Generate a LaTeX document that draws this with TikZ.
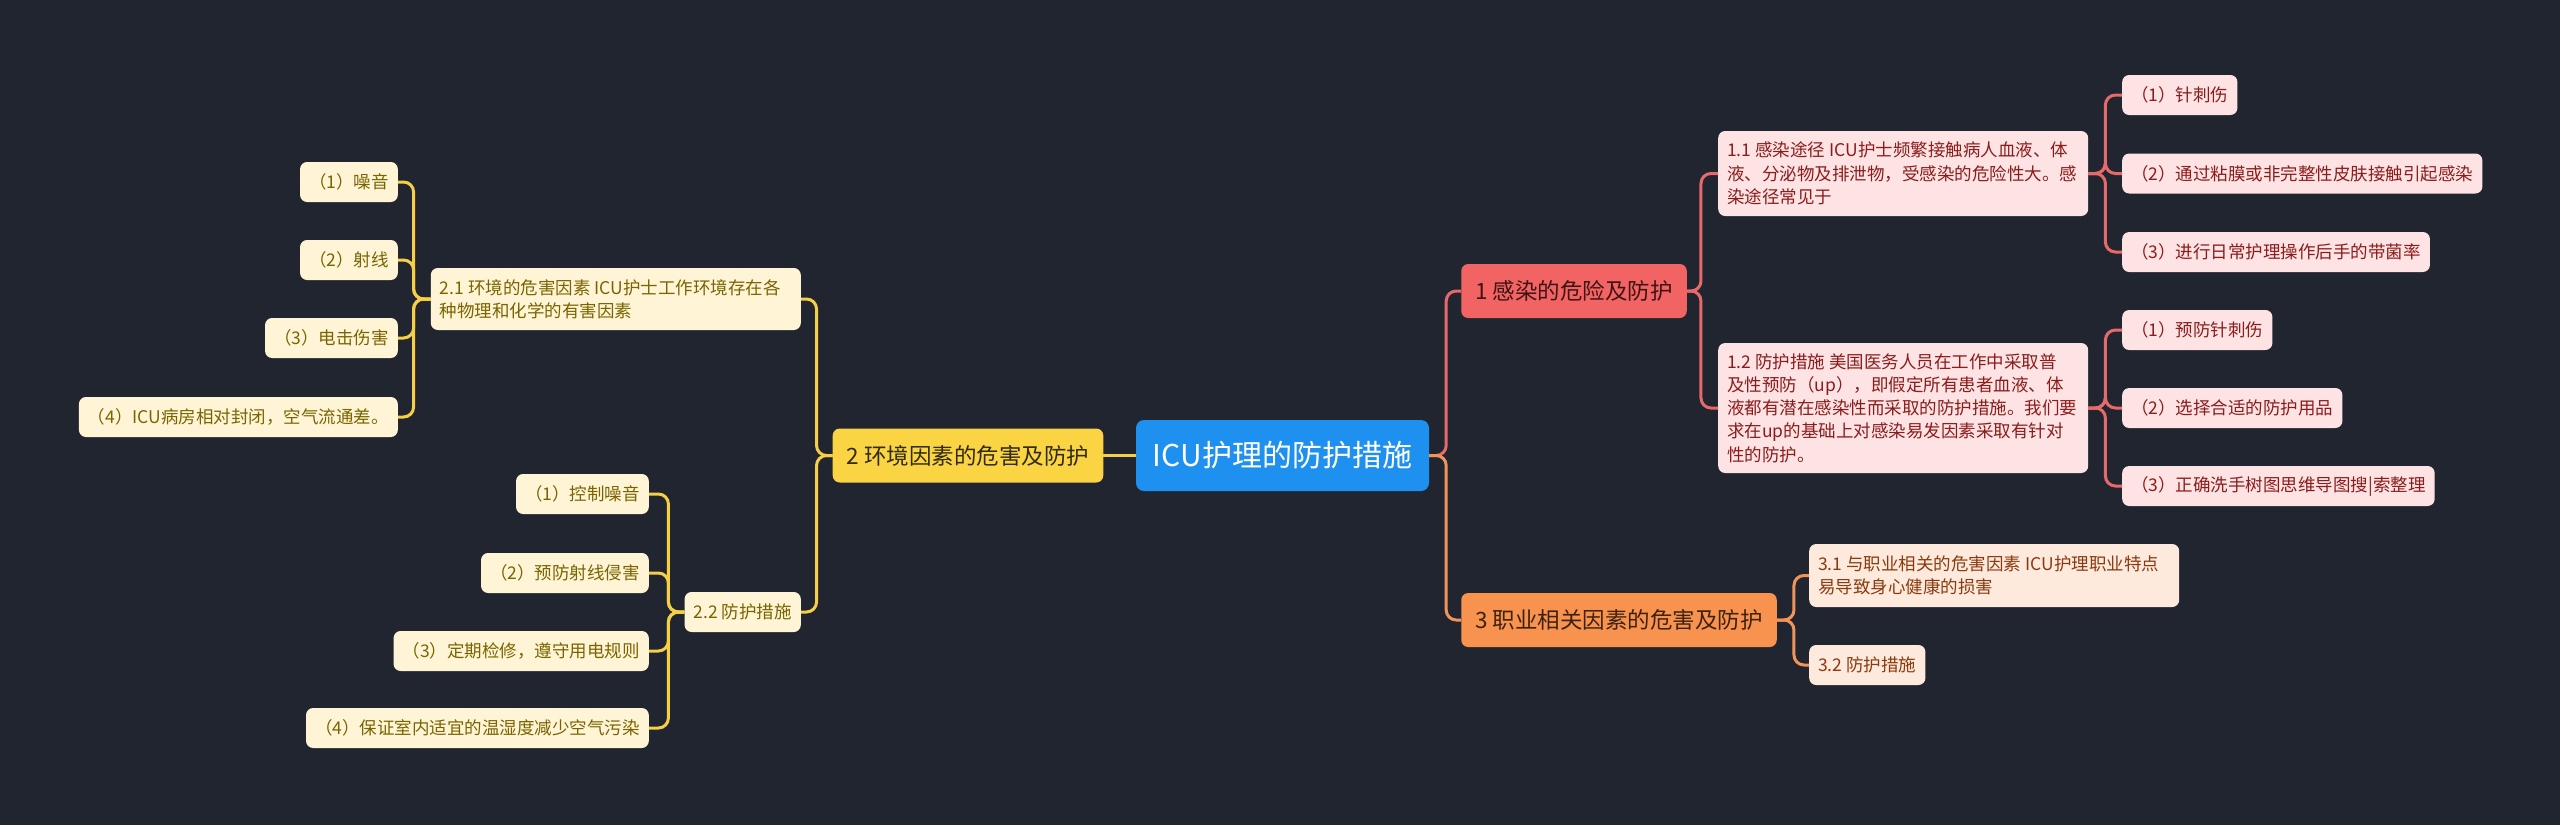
\documentclass[tikz,border=0pt]{standalone}
\usepackage{fontspec}
\setmainfont{Noto Sans CJK SC}
\usetikzlibrary{calc}
\definecolor{bg}{HTML}{212530}
\definecolor{rootc}{HTML}{1E90F0}
\definecolor{redf}{HTML}{F26363}
\definecolor{redl}{HTML}{E66A6A}
\definecolor{redt}{HTML}{3E1414}
\definecolor{pinkf}{HTML}{FDE3E3}
\definecolor{pinkt}{HTML}{8C1C1C}
\definecolor{orf}{HTML}{F8924F}
\definecolor{orl}{HTML}{F2945A}
\definecolor{ort}{HTML}{3E2210}
\definecolor{peachf}{HTML}{FDEADC}
\definecolor{peacht}{HTML}{8A3A0F}
\definecolor{yef}{HTML}{FAD443}
\definecolor{yel}{HTML}{F5CF45}
\definecolor{yet}{HTML}{2F2A10}
\definecolor{creamf}{HTML}{FFF5D6}
\definecolor{creamt}{HTML}{7A6400}
\tikzset{
  base/.style={rounded corners=7pt, inner xsep=9pt, inner ysep=0pt, align=left},
  rootbox/.style={base, fill=rootc, text=white, rounded corners=8pt, minimum width=293pt, minimum height=71pt, align=center, font=\fontsize{30pt}{36pt}\selectfont},
  brbox/.style={base, minimum height=54pt, align=center, font=\fontsize{22.5pt}{27pt}\selectfont, inner xsep=14pt},
  br1/.style={brbox, fill=redf, text=redt},
  br2/.style={brbox, fill=yef, text=yet},
  br3/.style={brbox, fill=orf, text=ort},
  leaf/.style={base, minimum height=40pt, font=\fontsize{17.5pt}{23.3pt}\selectfont},
  lpink/.style={leaf, fill=pinkf, text=pinkt},
  lpeach/.style={leaf, fill=peachf, text=peacht},
  lcream/.style={leaf, fill=creamf, text=creamt, align=right},
  wide/.style={text width=352pt, align=flush left},
  conn/.style={line width=3pt, rounded corners=10pt},
  c1/.style={conn, draw=redl},
  c2/.style={conn, draw=yel},
  c3/.style={conn, draw=orl},
}
\begin{document}
\begin{tikzpicture}[x=1pt,y=-1pt]
\fill[bg] (0,0) rectangle (2560,825);
\useasboundingbox (0,0) rectangle (2560,825);

% nodes
\node[rootbox] (root) at (1282.5,455.5) {ICU护理的防护措施};
\node[br1] (b1) at (1574,291) {1 感染的危险及防护};
\node[br3] (b3) at (1619,620) {3 职业相关因素的危害及防护};
\node[br2] (b2) at (968,455.5) {2 环境因素的危害及防护};

\node[lpink, wide, anchor=west, minimum height=85pt] (n11) at (1718,173.5) {1.1 感染途径 ICU护士频繁接触病人血液、体\\液、分泌物及排泄物，受感染的危险性大。感\\染途径常见于};
\node[lpink, wide, anchor=west, minimum height=130pt] (n12) at (1718,408) {1.2 防护措施 美国医务人员在工作中采取普\\及性预防（up），即假定所有患者血液、体\\液都有潜在感染性而采取的防护措施。我们要\\求在up的基础上对感染易发因素采取有针对\\性的防护。};

\node[lpink, anchor=west] (l111) at (2122,95) {（1）针刺伤};
\node[lpink, anchor=west] (l112) at (2122,173.5) {（2）通过粘膜或非完整性皮肤接触引起感染};
\node[lpink, anchor=west] (l113) at (2122,252) {（3）进行日常护理操作后手的带菌率};

\node[lpink, anchor=west] (l121) at (2122,330) {（1）预防针刺伤};
\node[lpink, anchor=west] (l122) at (2122,408) {（2）选择合适的防护用品};
\node[lpink, anchor=west] (l123) at (2122,486) {（3）正确洗手树图思维导图搜|索整理};

\node[lpeach, wide, anchor=west, minimum height=63pt] (n31) at (1809,575.5) {3.1 与职业相关的危害因素 ICU护理职业特点\\易导致身心健康的损害};
\node[lpeach, anchor=west] (n32) at (1809,665) {3.2 防护措施};

\node[lcream, wide, anchor=east, minimum height=62pt] (n21) at (801,299) {2.1 环境的危害因素 ICU护士工作环境存在各\\种物理和化学的有害因素};
\node[lcream, anchor=east] (n22) at (801,612) {2.2 防护措施};

\node[lcream, anchor=east] (l211) at (398,182) {（1）噪音};
\node[lcream, anchor=east] (l212) at (398,260) {（2）射线};
\node[lcream, anchor=east] (l213) at (398,338) {（3）电击伤害};
\node[lcream, anchor=east] (l214) at (398,417) {（4）ICU病房相对封闭，空气流通差。};

\node[lcream, anchor=east] (l221) at (649,494) {（1）控制噪音};
\node[lcream, anchor=east] (l222) at (649,573) {（2）预防射线侵害};
\node[lcream, anchor=east] (l223) at (649,651) {（3）定期检修，遵守用电规则};
\node[lcream, anchor=east] (l224) at (649,728) {（4）保证室内适宜的温湿度减少空气污染};

% connectors
\draw[c2] (root.west) -- (b2.east);
\draw[c1] (root.east) -- ($(root.east)+(17,0)$) |- (b1.west);
\draw[c3] (root.east) -- ($(root.east)+(17,0)$) |- (b3.west);

\foreach \t in {n11,n12}{
  \draw[c1] (b1.east) -- ($(b1.east)+(14,0)$) |- (\t.west);
}
\foreach \t in {l111,l112,l113}{
  \draw[c1] (n11.east) -- ($(n11.east)+(17,0)$) |- (\t.west);
}
\foreach \t in {l121,l122,l123}{
  \draw[c1] (n12.east) -- ($(n12.east)+(17,0)$) |- (\t.west);
}
\foreach \t in {n31,n32}{
  \draw[c3] (b3.east) -- ($(b3.east)+(17,0)$) |- (\t.west);
}
\foreach \t in {n21,n22}{
  \draw[c2] (b2.west) -- ($(b2.west)+(-16,0)$) |- (\t.east);
}
\foreach \t in {l211,l212,l213,l214}{
  \draw[c2] (n21.west) -- ($(n21.west)+(-17,0)$) |- (\t.east);
}
\foreach \t in {l221,l222,l223,l224}{
  \draw[c2] (n22.west) -- ($(n22.west)+(-16,0)$) |- (\t.east);
}
\end{tikzpicture}
\end{document}
